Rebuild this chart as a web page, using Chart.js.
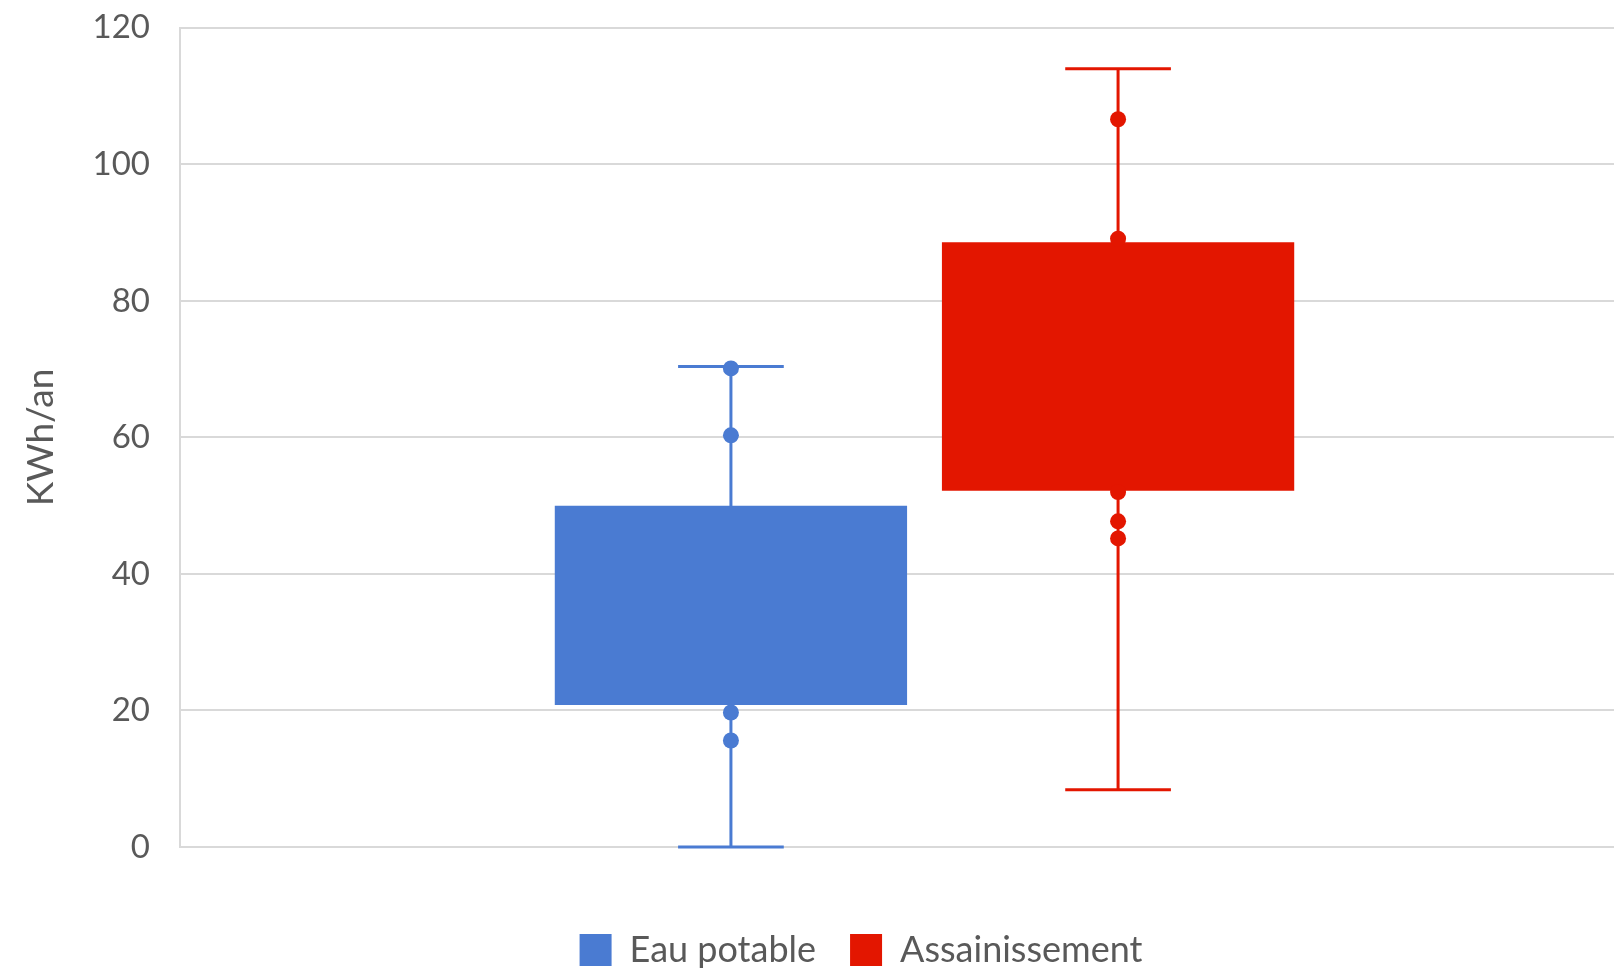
<!DOCTYPE html>
<html lang="fr">
<head>
<meta charset="utf-8">
<title>KWh/an - Eau potable / Assainissement</title>
<script src="https://cdn.jsdelivr.net/npm/chart.js@4.4.1/dist/chart.umd.min.js"></script>
<style>
    html, body { margin: 0; padding: 0; background: #fff; overflow: hidden; }
    #wrap { position: relative; width: 1722px; height: 1000px; margin-top: -22px; }
</style>
</head>
<body>
<div id="wrap"><canvas id="boxChart"></canvas></div>
<script>
// Données
const categories = [''];
const seriesNames = ['Eau potable', 'Assainissement'];
const seriesColors = ['#4a7bd2', '#e31600'];

// boîte : [Q1, Q3]
const eauBox = [20.8, 50];
const assBox = [52.2, 88.6];

// moustaches : [min, max]
const eauWhisker = [0, 70.4];
const assWhisker = [8.4, 114];

// points intérieurs
const eauPoints = [70.1, 60.3, 19.7, 15.6];
const assPoints = [106.6, 89.1, 52.0, 47.7, 45.2];

const yTicks = { min: 0, max: 120, step: 20 };

const whiskers = [eauWhisker, assWhisker];
const points = [eauPoints, assPoints];

const textColor = '#595959';
const gridColor = '#d9d9d9';
const fontFamily = 'Lato, "Open Sans", sans-serif';

// Dessine moustaches, extrémités et points à partir des barres et de l'axe y
const whiskerPlugin = {
    id: 'whiskers',
    beforeDatasetsDraw(chart) {
        const ctx = chart.ctx;
        const y = chart.scales.y;
        chart.data.datasets.forEach((ds, i) => {
            const bar = chart.getDatasetMeta(i).data[0];
            if (!bar) return;
            const w = whiskers[i];
            const half = bar.width * 0.15;
            ctx.save();
            ctx.strokeStyle = ds.backgroundColor;
            ctx.lineWidth = 3;
            ctx.beginPath();
            ctx.moveTo(bar.x, y.getPixelForValue(w[0]));
            ctx.lineTo(bar.x, y.getPixelForValue(w[1]));
            w.forEach(v => {
                const py = y.getPixelForValue(v);
                ctx.moveTo(bar.x - half, py);
                ctx.lineTo(bar.x + half, py);
            });
            ctx.stroke();
            ctx.restore();
        });
    },
    afterDatasetsDraw(chart) {
        const ctx = chart.ctx;
        const y = chart.scales.y;
        chart.data.datasets.forEach((ds, i) => {
            const bar = chart.getDatasetMeta(i).data[0];
            if (!bar) return;
            ctx.save();
            ctx.fillStyle = ds.backgroundColor;
            points[i].forEach(v => {
                ctx.beginPath();
                ctx.arc(bar.x, y.getPixelForValue(v), 8, 0, Math.PI * 2);
                ctx.fill();
            });
            ctx.restore();
        });
    }
};

const ctx = document.getElementById('boxChart').getContext('2d');
new Chart(ctx, {
    type: 'bar',
    data: {
        labels: categories,
        datasets: [
            { label: seriesNames[0], data: [eauBox], backgroundColor: seriesColors[0], borderWidth: 0 },
            { label: seriesNames[1], data: [assBox], backgroundColor: seriesColors[1], borderWidth: 0 }
        ]
    },
    options: {
        responsive: true,
        maintainAspectRatio: false,
        animation: false,
        categoryPercentage: 0.52,
        barPercentage: 0.91,
        layout: { padding: { top: 6, left: 0, right: 0, bottom: 0 } },
        plugins: {
            legend: {
                position: 'bottom',
                labels: {
                    boxWidth: 32,
                    boxHeight: 32,
                    padding: 34,
                    color: textColor,
                    font: { family: fontFamily, size: 36 }
                }
            },
            tooltip: { enabled: false }
        },
        scales: {
            x: {
                grid: { display: false },
                border: { display: false },
                ticks: { display: false },
                afterFit(scale) { scale.height = 51; }
            },
            y: {
                min: yTicks.min,
                max: yTicks.max,
                ticks: {
                    stepSize: yTicks.step,
                    padding: 30,
                    color: textColor,
                    font: { family: fontFamily, size: 33 }
                },
                grid: { color: gridColor, lineWidth: 2, drawTicks: false },
                border: { display: true, color: gridColor, width: 2 },
                title: {
                    display: true,
                    text: 'KWh/an',
                    color: textColor,
                    padding: { top: 19, bottom: 0 },
                    font: { family: fontFamily, size: 37 }
                },
                afterFit(scale) { scale.width = 180; }
            },
            yRight: {
                position: 'right',
                grid: { display: false },
                border: { display: false },
                ticks: { display: false },
                afterFit(scale) { scale.width = 53; }
            }
        }
    },
    plugins: [whiskerPlugin]
});
</script>
</body>
</html>
